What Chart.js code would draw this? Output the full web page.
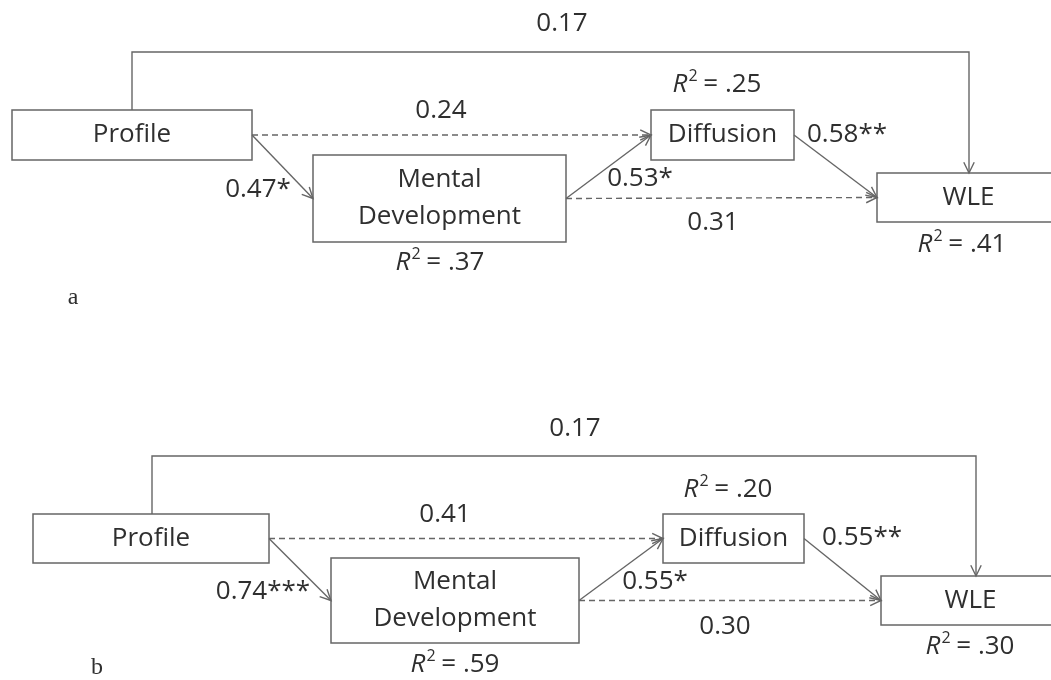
<!DOCTYPE html>
<html>
<head>
<meta charset="utf-8">
<script src="https://cdn.jsdelivr.net/npm/chart.js@4.4.1/dist/chart.umd.min.js"></script>
<style>
    html, body { margin: 0; padding: 0; background: #ffffff; }
    #wrap { width: 1051px; height: 680px; }
</style>
</head>
<body>
<div id="wrap"><canvas id="pathChart" width="1051" height="680"></canvas></div>
<script>
// ---- data ----
const panelNames = ['a', 'b'];
const nodeNames = [['Profile'], ['Mental', 'Development'], ['Diffusion'], ['WLE']];
// paths: [from node, to node]
const paths = [[0, 3], [0, 2], [0, 1], [1, 2], [1, 3], [2, 3]];
const coefA = [0.17, 0.24, 0.47, 0.53, 0.31, 0.58];
const starsA = ['', '', '*', '*', '', '**'];
const coefB = [0.17, 0.41, 0.74, 0.55, 0.30, 0.55];
const starsB = ['', '', '***', '*', '', '**'];
const r2A = [null, 0.37, 0.25, 0.41];
const r2B = [null, 0.59, 0.20, 0.30];

const coefs = [coefA, coefB];
const stars = [starsA, starsB];
const r2s = [r2A, r2B];

// ---- layout (diagram units = pixels of the picture) ----
const dashed = [false, true, false, false, true, false];
const layout = [
    {
        boxes: [[12, 110, 252, 160], [313, 155, 566, 242], [651, 110, 794, 160], [877, 173, 1060, 222]],
        elbow: { fromX: 132, y: 52, toX: 969 },
        coefPos: [[562, 24], [441, 111], [258, 190], [640, 179], [713, 223], [847, 135]],
        r2Pos: [null, [440, 263], [717, 85], [962, 245]],
        letterPos: [73, 298]
    },
    {
        boxes: [[33, 514, 269, 563], [331, 558, 579, 643], [663, 514, 804, 563], [881, 576, 1060, 625]],
        elbow: { fromX: 152, y: 456, toX: 976 },
        coefPos: [[575, 429], [445, 515], [263, 592], [655, 582], [725, 627], [862, 538]],
        r2Pos: [null, [455, 665], [728, 490], [970, 647]],
        letterPos: [97, 668]
    }
];

const LINE = '#666666';
const TEXT = '#2f2f2f';
const FONT = '"Open Sans"';

function pathPoints(p, i) {
    const L = layout[p];
    const src = L.boxes[paths[i][0]];
    const tgt = L.boxes[paths[i][1]];
    if (i === 0) {
        const e = L.elbow;
        return [{x: e.fromX, y: src[1]}, {x: e.fromX, y: e.y}, {x: e.toX, y: e.y}, {x: e.toX, y: tgt[1]}];
    }
    return [{x: src[2], y: (src[1] + src[3]) / 2}, {x: tgt[0], y: (tgt[1] + tgt[3]) / 2}];
}

const datasets = [];
panelNames.forEach(function (name, p) {
    paths.forEach(function (pt, i) {
        datasets.push({
            label: name + ' ' + nodeNames[pt[0]].join(' ') + ' -> ' + nodeNames[pt[1]].join(' '),
            data: pathPoints(p, i),
            showLine: true,
            borderColor: LINE,
            borderWidth: 1.4,
            borderDash: dashed[i] ? [6, 4] : [],
            pointRadius: 0,
            tension: 0,
            fill: false
        });
    });
});

function drawR2(ctx, x, y, val) {
    const rest = ' = ' + val.toFixed(2).slice(1);
    ctx.font = 'italic 26px ' + FONT;
    const wR = ctx.measureText('R').width;
    ctx.font = '16px ' + FONT;
    const w2 = ctx.measureText('2').width;
    ctx.font = '26px ' + FONT;
    const wRest = ctx.measureText(rest).width;
    let x0 = x - (wR + w2 + wRest) / 2;
    ctx.textAlign = 'left';
    ctx.font = 'italic 26px ' + FONT;
    ctx.fillText('R', x0, y);
    ctx.font = '16px ' + FONT;
    ctx.fillText('2', x0 + wR + 1, y - 9);
    ctx.font = '26px ' + FONT;
    ctx.fillText(rest, x0 + wR + w2, y);
}

const diagramPlugin = {
    id: 'diagram',
    afterDatasetsDraw(chart) {
        const ctx = chart.ctx;
        const sx = chart.scales.x, sy = chart.scales.y;
        const X = v => sx.getPixelForValue(v);
        const Y = v => sy.getPixelForValue(v);
        ctx.save();

        // arrowheads at the end of each path
        chart.data.datasets.forEach(function (ds) {
            const d = ds.data;
            const a = d[d.length - 2], b = d[d.length - 1];
            const ang = Math.atan2(Y(b.y) - Y(a.y), X(b.x) - X(a.x));
            const len = 12, spread = 0.45;
            ctx.strokeStyle = LINE;
            ctx.lineWidth = 1.4;
            ctx.setLineDash([]);
            ctx.beginPath();
            ctx.moveTo(X(b.x) - len * Math.cos(ang - spread), Y(b.y) - len * Math.sin(ang - spread));
            ctx.lineTo(X(b.x), Y(b.y));
            ctx.lineTo(X(b.x) - len * Math.cos(ang + spread), Y(b.y) - len * Math.sin(ang + spread));
            ctx.stroke();
        });

        ctx.fillStyle = TEXT;
        ctx.textBaseline = 'middle';
        layout.forEach(function (L, p) {
            // boxes with names
            L.boxes.forEach(function (bx, n) {
                ctx.strokeStyle = LINE;
                ctx.lineWidth = 1.5;
                ctx.strokeRect(X(bx[0]), Y(bx[1]), X(bx[2]) - X(bx[0]), Y(bx[3]) - Y(bx[1]));
                const lines = nodeNames[n];
                const cx = (bx[0] + bx[2]) / 2;
                const cy = (bx[1] + bx[3]) / 2;
                ctx.font = '26px ' + FONT;
                ctx.textAlign = 'center';
                lines.forEach(function (t, k) {
                    const off = (k - (lines.length - 1) / 2) * 37;
                    ctx.fillText(t, X(cx), Y(cy + off));
                });
            });
            // path coefficients
            ctx.font = '26px ' + FONT;
            ctx.textAlign = 'center';
            coefs[p].forEach(function (v, i) {
                const pos = L.coefPos[i];
                ctx.fillText(v.toFixed(2) + stars[p][i], X(pos[0]), Y(pos[1]));
            });
            // explained variance
            r2s[p].forEach(function (v, n) {
                if (v === null) return;
                const pos = L.r2Pos[n];
                drawR2(ctx, X(pos[0]), Y(pos[1]), v);
            });
            // panel letter
            ctx.font = '24px "Liberation Serif"';
            ctx.textAlign = 'center';
            ctx.fillText(panelNames[p], X(L.letterPos[0]), Y(L.letterPos[1]));
        });
        ctx.restore();
    }
};

function build() {
    const ctx = document.getElementById('pathChart').getContext('2d');
    new Chart(ctx, {
        type: 'scatter',
        data: { datasets: datasets },
        options: {
            responsive: false,
            animation: false,
            layout: { padding: 0 },
            scales: {
                x: { type: 'linear', min: 0, max: 1051, display: false },
                y: { type: 'linear', min: 0, max: 680, reverse: true, display: false }
            },
            plugins: {
                legend: { display: false },
                tooltip: { enabled: false }
            }
        },
        plugins: [diagramPlugin]
    });
}

Promise.all([
    document.fonts.load('26px "Open Sans"'),
    document.fonts.load('italic 26px "Open Sans"'),
    document.fonts.load('24px "Liberation Serif"')
]).then(build, build);
</script>
</body>
</html>
